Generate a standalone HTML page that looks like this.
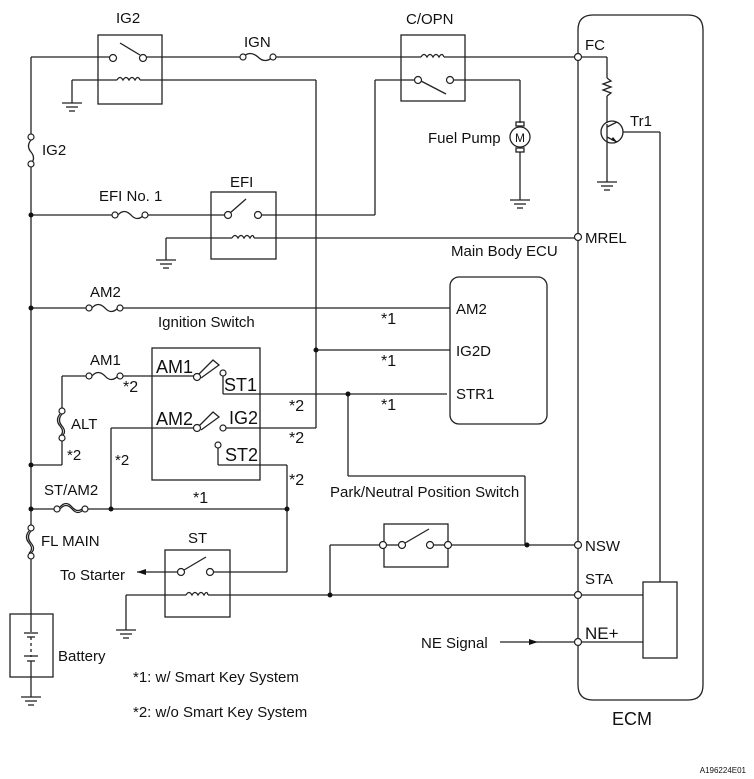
<!DOCTYPE html>
<html><head><meta charset="utf-8"><style>
html,body{margin:0;padding:0;background:#fff;}
svg{display:block;}
text{font-family:"Liberation Sans",sans-serif;fill:#111;}
</style></head><body>
<svg width="754" height="779" viewBox="0 0 754 779" xmlns="http://www.w3.org/2000/svg">
<g stroke="#222" stroke-width="1.3" fill="none">
<line x1="31" y1="57" x2="31" y2="134"/>
<line x1="31" y1="167" x2="31" y2="525"/>
<line x1="31" y1="559" x2="31" y2="614"/>
<path d="M31,140 q-5,6 0,12 q5,6 0,12"/>
<rect x="98" y="35" width="64" height="69"/>
<line x1="31" y1="57" x2="110" y2="57"/>
<line x1="120" y1="43" x2="140" y2="55"/>
<line x1="146" y1="57" x2="240" y2="57"/>
<path d="M243,57 q7,-7 15,0 q7,7 15,0"/>
<line x1="276" y1="57" x2="401" y2="57"/>
<line x1="72" y1="80" x2="117" y2="80"/>
<path d="M117,80 q3,-5 6,0 q3,-5 6,0 q3,-5 6,0 q3,-5 5,0"/>
<line x1="140" y1="80" x2="316" y2="80"/>
<line x1="72" y1="80" x2="72" y2="103"/>
<line x1="316" y1="80" x2="316" y2="428"/>
<rect x="401" y="35" width="64" height="66"/>
<line x1="401" y1="57" x2="421" y2="57"/>
<path d="M421,57 q3,-5 6,0 q3,-5 6,0 q3,-5 6,0 q3,-5 5,0"/>
<line x1="444" y1="57" x2="575" y2="57"/>
<line x1="375" y1="80" x2="415" y2="80"/>
<line x1="421" y1="81" x2="446" y2="94"/>
<line x1="453" y1="80" x2="520" y2="80"/>
<line x1="520" y1="80" x2="520" y2="123"/>
<line x1="520" y1="152" x2="520" y2="200"/>
<circle cx="520" cy="137" r="10"/>
<rect x="516" y="122" width="8" height="4"/>
<rect x="516" y="148" width="8" height="4"/>
<line x1="375" y1="80" x2="375" y2="215"/>
<line x1="31" y1="215" x2="115" y2="215"/>
<path d="M118,215 q6,-7 13,0 q6,7 13,0"/>
<line x1="147" y1="215" x2="225" y2="215"/>
<rect x="211" y="192" width="65" height="67"/>
<line x1="230" y1="213" x2="246" y2="199"/>
<line x1="261" y1="215" x2="375" y2="215"/>
<line x1="166" y1="238" x2="232" y2="238"/>
<path d="M232,238 q3,-5 6,0 q3,-5 6,0 q3,-5 6,0 q3,-5 4,0"/>
<line x1="254" y1="238" x2="575" y2="238"/>
<line x1="166" y1="238" x2="166" y2="260"/>
<line x1="31" y1="308" x2="89" y2="308"/>
<path d="M92,308 q6,-7 13,0 q6,7 13,0"/>
<line x1="121" y1="308" x2="450" y2="308"/>
<line x1="316" y1="350" x2="450" y2="350"/>
<rect x="450" y="277" width="97" height="147" rx="9"/>
<rect x="152" y="348" width="108" height="132"/>
<line x1="62" y1="376" x2="89" y2="376"/>
<path d="M92,376 q6,-7 13,0 q6,7 13,0"/>
<line x1="121" y1="376" x2="194" y2="376"/>
<path d="M199,374 L213,360 L219,365 L201,378"/>
<line x1="223" y1="376" x2="223" y2="394"/>
<line x1="223" y1="394" x2="447" y2="394"/>
<line x1="348" y1="394" x2="348" y2="476"/>
<line x1="348" y1="476" x2="525" y2="476"/>
<line x1="525" y1="476" x2="525" y2="545"/>
<line x1="111" y1="428" x2="194" y2="428"/>
<path d="M199,426 L213,412 L219,417 L201,430"/>
<line x1="226" y1="428" x2="316" y2="428"/>
<line x1="218" y1="448" x2="218" y2="465"/>
<line x1="218" y1="465" x2="287" y2="465"/>
<line x1="287" y1="465" x2="287" y2="572"/>
<line x1="111" y1="428" x2="111" y2="508"/>
<line x1="62" y1="376" x2="62" y2="408"/>
<path d="M62,414 q-5,6 0,12 q5,6 0,10"/>
<path d="M60,414 q-5,6 0,12 q5,6 0,10"/>
<line x1="62" y1="441" x2="62" y2="465"/>
<line x1="31" y1="465" x2="62" y2="465"/>
<line x1="31" y1="509" x2="54" y2="509"/>
<path d="M60,509 q6,-7 12,0 q6,7 12,0"/>
<path d="M60,507 q6,-7 12,0 q6,7 12,0"/>
<line x1="88" y1="509" x2="287" y2="509"/>
<path d="M31,531 q-5,6 0,12 q5,6 0,10"/>
<path d="M29,531 q-5,6 0,12 q5,6 0,10"/>
<rect x="165" y="550" width="65" height="67"/>
<line x1="137" y1="572" x2="178" y2="572"/>
<line x1="184" y1="570" x2="206" y2="557"/>
<line x1="213" y1="572" x2="287" y2="572"/>
<line x1="126" y1="595" x2="186" y2="595"/>
<path d="M186,595 q3,-5 6,0 q3,-5 6,0 q3,-5 6,0 q3,-5 4,0"/>
<line x1="208" y1="595" x2="643" y2="595"/>
<line x1="126" y1="595" x2="126" y2="630"/>
<line x1="330" y1="545" x2="330" y2="595"/>
<line x1="330" y1="545" x2="380" y2="545"/>
<rect x="384" y="524" width="64" height="43"/>
<line x1="386" y1="545" x2="399" y2="545"/>
<line x1="405" y1="543" x2="429" y2="529"/>
<line x1="433" y1="545" x2="445" y2="545"/>
<line x1="451" y1="545" x2="575" y2="545"/>
<line x1="500" y1="642" x2="575" y2="642"/>
<line x1="581" y1="642" x2="643" y2="642"/>
<path d="M593,15 L688,15 Q703,15 703,30 L703,685 Q703,700 688,700 L593,700 Q578,700 578,685 L578,30 Q578,15 593,15 Z"/>
<line x1="581" y1="57" x2="607" y2="57"/>
<line x1="607" y1="57" x2="607" y2="78"/>
<path d="M607,78 l4,3 l-8,3 l8,3 l-8,3 l8,3 l-4,3"/>
<line x1="607" y1="96" x2="607" y2="123"/>
<circle cx="612" cy="132" r="11"/>
<line x1="607" y1="124" x2="607" y2="141"/>
<line x1="607" y1="127" x2="617" y2="122"/>
<line x1="607" y1="137" x2="617" y2="142"/>
<line x1="607" y1="141" x2="607" y2="182"/>
<line x1="623" y1="132" x2="660" y2="132"/>
<line x1="660" y1="132" x2="660" y2="582"/>
<rect x="643" y="582" width="34" height="76"/>
<rect x="10" y="614" width="43" height="63"/>
<line x1="31" y1="614" x2="31" y2="632"/>
<line x1="24" y1="633" x2="38" y2="633"/><line x1="27" y1="637" x2="35" y2="637"/>
<line x1="31" y1="637" x2="31" y2="657" stroke-dasharray="3,3"/>
<line x1="24" y1="656" x2="38" y2="656"/><line x1="27" y1="661" x2="35" y2="661"/>
<line x1="31" y1="661" x2="31" y2="697"/>
</g>
<g stroke="#222" stroke-width="1.3">
<line x1="62" y1="103" x2="82" y2="103"/><line x1="66" y1="107" x2="78" y2="107"/><line x1="69" y1="111" x2="75" y2="111"/>
<line x1="156" y1="260" x2="176" y2="260"/><line x1="160" y1="264" x2="172" y2="264"/><line x1="163" y1="268" x2="169" y2="268"/>
<line x1="510" y1="200" x2="530" y2="200"/><line x1="514" y1="204" x2="526" y2="204"/><line x1="517" y1="208" x2="523" y2="208"/>
<line x1="597" y1="182" x2="617" y2="182"/><line x1="601" y1="186" x2="613" y2="186"/><line x1="604" y1="190" x2="610" y2="190"/>
<line x1="116" y1="630" x2="136" y2="630"/><line x1="120" y1="634" x2="132" y2="634"/><line x1="123" y1="638" x2="129" y2="638"/>
<line x1="21" y1="697" x2="41" y2="697"/><line x1="25" y1="701" x2="37" y2="701"/><line x1="28" y1="705" x2="34" y2="705"/>
</g>
<g stroke="#222" stroke-width="1.2" fill="#fff">
<circle cx="113" cy="58" r="3.5"/><circle cx="143" cy="58" r="3.5"/>
<circle cx="243" cy="57" r="3"/><circle cx="273" cy="57" r="3"/>
<circle cx="31" cy="137" r="3"/><circle cx="31" cy="164" r="3"/>
<circle cx="418" cy="80" r="3.5"/><circle cx="450" cy="80" r="3.5"/>
<circle cx="115" cy="215" r="3"/><circle cx="145" cy="215" r="3"/>
<circle cx="228" cy="215" r="3.5"/><circle cx="258" cy="215" r="3.5"/>
<circle cx="89" cy="308" r="3"/><circle cx="120" cy="308" r="3"/>
<circle cx="89" cy="376" r="3"/><circle cx="120" cy="376" r="3"/>
<circle cx="197" cy="377" r="3.5"/><circle cx="223" cy="373" r="3"/>
<circle cx="197" cy="428" r="3.5"/><circle cx="223" cy="428" r="3"/><circle cx="218" cy="445" r="3"/>
<circle cx="62" cy="411" r="3"/><circle cx="62" cy="438" r="3"/>
<circle cx="57" cy="509" r="3"/><circle cx="85" cy="509" r="3"/>
<circle cx="31" cy="528" r="3"/><circle cx="31" cy="556" r="3"/>
<circle cx="181" cy="572" r="3.5"/><circle cx="210" cy="572" r="3.5"/>
<circle cx="383" cy="545" r="3.5"/><circle cx="402" cy="545" r="3.5"/><circle cx="430" cy="545" r="3.5"/><circle cx="448" cy="545" r="3.5"/>
<circle cx="578" cy="57" r="3.5"/><circle cx="578" cy="237" r="3.5"/><circle cx="578" cy="545" r="3.5"/><circle cx="578" cy="595" r="3.5"/><circle cx="578" cy="642" r="3.5"/>
</g>
<g fill="#111">
<circle cx="31" cy="215" r="2.5"/><circle cx="31" cy="308" r="2.5"/><circle cx="31" cy="465" r="2.5"/><circle cx="31" cy="509" r="2.5"/>
<circle cx="111" cy="509" r="2.5"/><circle cx="287" cy="509" r="2.5"/><circle cx="316" cy="350" r="2.5"/><circle cx="348" cy="394" r="2.5"/>
<circle cx="330" cy="595" r="2.5"/><circle cx="527" cy="545" r="2.5"/>
<path d="M137,572 l9,-3 l0,6 z"/>
<path d="M538,642 l-9,-3 l0,6 z"/>
<path d="M611,140 l6,2 l-4,-5 z"/>
</g>
<g font-size="15">
<text x="116" y="23">IG2</text>
<text x="244" y="47">IGN</text>
<text x="406" y="24">C/OPN</text>
<text x="585" y="50">FC</text>
<text x="630" y="126">Tr1</text>
<text x="42" y="155">IG2</text>
<text x="428" y="143">Fuel Pump</text>
<text x="230" y="187">EFI</text>
<text x="99" y="201">EFI No. 1</text>
<text x="585" y="243">MREL</text>
<text x="451" y="256">Main Body ECU</text>
<text x="90" y="297">AM2</text>
<text x="158" y="327">Ignition Switch</text>
<text x="456" y="314">AM2</text>
<text x="456" y="356">IG2D</text>
<text x="456" y="399">STR1</text>
<text x="381" y="324" font-size="16">*1</text><text x="381" y="366" font-size="16">*1</text><text x="381" y="410" font-size="16">*1</text>
<text x="90" y="365">AM1</text>
<text x="156" y="373" font-size="18">AM1</text>
<text x="224" y="391" font-size="18">ST1</text>
<text x="156" y="425" font-size="18">AM2</text>
<text x="229" y="424" font-size="18">IG2</text>
<text x="225" y="461" font-size="18">ST2</text>
<text x="123" y="392" font-size="16">*2</text>
<text x="71" y="429">ALT</text>
<text x="67" y="460">*2</text>
<text x="115" y="465">*2</text>
<text x="289" y="411" font-size="16">*2</text><text x="289" y="443" font-size="16">*2</text><text x="289" y="485" font-size="16">*2</text>
<text x="44" y="495">ST/AM2</text>
<text x="193" y="503" font-size="16">*1</text>
<text x="41" y="546">FL MAIN</text>
<text x="188" y="543">ST</text>
<text x="60" y="580">To Starter</text>
<text x="330" y="497">Park/Neutral Position Switch</text>
<text x="585" y="551">NSW</text>
<text x="585" y="584">STA</text>
<text x="585" y="639" font-size="17">NE+</text>
<text x="421" y="648">NE Signal</text>
<text x="58" y="661">Battery</text>
<text x="133" y="682">*1: w/ Smart Key System</text>
<text x="133" y="717">*2: w/o Smart Key System</text>
<text x="612" y="725" font-size="18">ECM</text>
<text x="746" y="773" font-size="8" text-anchor="end">A196224E01</text>
<text x="515" y="142" font-size="12">M</text>
</g>
</svg>
</body></html>
